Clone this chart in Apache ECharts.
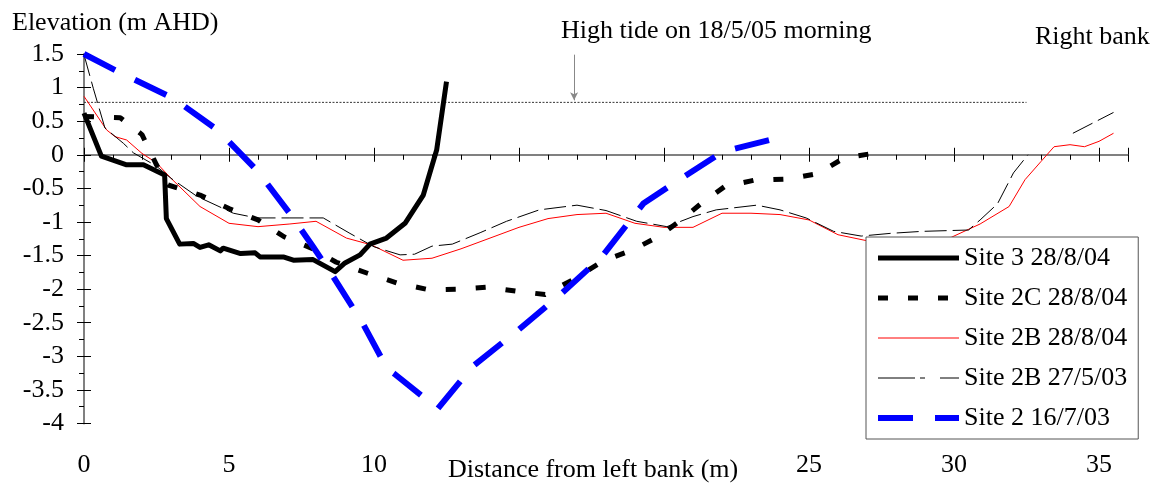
<!DOCTYPE html>
<html><head><meta charset="utf-8">
<script src="https://cdn.jsdelivr.net/npm/echarts@6/dist/echarts.min.js"></script>
<style>html,body{margin:0;padding:0;background:#fff}#c{width:1157px;height:483px}</style>
</head><body><div id="c"></div>
<script>
// ---- data ----
const site3X = [0, 0.6, 1.47, 2.05, 2.78, 2.84, 3.3, 3.77, 4.0, 4.3, 4.7, 4.8, 5.4, 5.9, 6.07, 6.87, 7.22, 7.9, 8.66, 9.0, 9.52, 9.86, 10.43, 11.07, 11.7, 12.16, 12.5];
const site3Y = [0.62, -0.02, -0.15, -0.15, -0.3, -0.95, -1.33, -1.32, -1.38, -1.34, -1.43, -1.39, -1.47, -1.46, -1.52, -1.52, -1.57, -1.56, -1.74, -1.61, -1.49, -1.33, -1.24, -1.02, -0.6, 0.07, 1.09];

const site2CX = [0, 1.25, 2.0, 2.5, 2.9, 4.0, 5.0, 6.0, 6.9, 7.9, 8.7, 9.75, 10.8, 11.9, 12.9, 13.9, 14.9, 15.9, 16.9, 17.9, 18.9, 19.8, 20.5, 21.3, 22.1, 23.1, 24.3, 25.3, 26.2, 27.2];
const site2CY = [0.57, 0.55, 0.3, -0.15, -0.45, -0.6, -0.8, -0.97, -1.22, -1.4, -1.6, -1.76, -1.91, -2.01, -2.0, -1.97, -2.03, -2.08, -1.85, -1.58, -1.42, -1.22, -1.0, -0.72, -0.47, -0.38, -0.36, -0.28, -0.05, 0.02];

const site2B04X = [0, 0.78, 1.07, 1.47, 2.0, 2.5, 3.0, 4.0, 5.0, 6.0, 7.1, 8.0, 9.05, 9.9, 11.0, 12.0, 13.0, 14.0, 15.0, 16.0, 17.0, 18.0, 19.0, 20.0, 21.0, 22.0, 23.0, 24.0, 25.0, 26.0, 27.0, 28.0, 29.0, 29.9, 30.9, 31.9, 32.45, 33.0, 33.45, 34.0, 34.5, 35.0, 35.5];
const site2B04Y = [0.87, 0.37, 0.27, 0.22, 0.02, -0.12, -0.35, -0.77, -1.02, -1.07, -1.03, -0.99, -1.24, -1.34, -1.57, -1.54, -1.4, -1.24, -1.08, -0.95, -0.89, -0.87, -1.02, -1.08, -1.08, -0.87, -0.87, -0.89, -0.97, -1.19, -1.28, -1.28, -1.26, -1.23, -1.03, -0.77, -0.37, -0.1, 0.12, 0.15, 0.12, 0.2, 0.32];

const site2B03X = [0, 0.32, 0.72, 1.36, 1.7, 2.5, 3.0, 3.9, 5.15, 5.95, 7.1, 8.25, 9.17, 10.0, 10.9, 11.4, 12.0, 12.7, 13.66, 14.57, 15.7, 17.0, 18.0, 19.06, 20.1, 21.0, 21.8, 23.2, 24.0, 24.9, 25.85, 26.8, 27.8, 28.9, 30.5, 30.9, 31.5, 32.05, 32.55, 33.3, 34.1, 35.5];
const site2B03Y = [1.49, 0.99, 0.4, 0.17, 0.03, -0.17, -0.35, -0.62, -0.87, -0.94, -0.94, -0.94, -1.17, -1.37, -1.49, -1.48, -1.36, -1.33, -1.16, -0.99, -0.82, -0.75, -0.83, -0.99, -1.07, -0.92, -0.82, -0.75, -0.82, -0.94, -1.14, -1.21, -1.17, -1.14, -1.12, -0.97, -0.73, -0.27, 0.0, null, 0.32, 0.63];

const site2X = [0, 1.3, 3.08, 4.63, 6.0, 7.16, 7.9, 8.6, 9.6, 10.45, 10.7, 12.2, 13.4, 15.0, 16.4, 17.85, 19.3, 20.6, 22.05, 24.2];
const site2Y = [1.5, 1.21, 0.84, 0.36, -0.25, -0.91, -1.37, -1.82, -2.5, -3.18, -3.26, -3.78, -3.15, -2.6, -2.09, -1.52, -0.72, -0.35, 0.05, 0.28];

const tideX = [0, 32.5];
const tideLevel = 0.78;
const arrowX = 16.9;
const arrowTop = 1.49;

const seriesNames = ['Site 3 28/8/04', 'Site 2C 28/8/04', 'Site 2B 28/8/04', 'Site 2B 27/5/03', 'Site 2 16/7/03'];
const xLabelsShown = [0, 5, 10, 25, 30, 35];

const xTitle = 'Distance from left bank (m)';
const yTitle = 'Elevation (m AHD)';
const tideText = 'High tide on 18/5/05 morning';
const bankText = 'Right bank';

// ---- build ----
const zip = (xs, ys) => xs.map((x, i) => [x, ys[i]]);
const FONT = "'Liberation Serif', 'Times New Roman', serif";
const chart = echarts.init(document.getElementById('c'), null, {renderer: 'canvas'});

const styles = {};
styles[seriesNames[0]] = {color: '#000000', width: 5, type: 'solid'};
styles[seriesNames[1]] = {color: '#000000', width: 5, type: [10, 20]};
styles[seriesNames[2]] = {color: '#ff0000', width: 1, type: 'solid'};
styles[seriesNames[3]] = {color: '#000000', width: 1, type: [22, 6]};
styles[seriesNames[4]] = {color: '#0000ff', width: 6, type: [35, 22]};

const legendTypes = {};
legendTypes[seriesNames[0]] = 'solid';
legendTypes[seriesNames[1]] = [10, 20];
legendTypes[seriesNames[2]] = 'solid';
legendTypes[seriesNames[3]] = [37, 5, 5, 15];
legendTypes[seriesNames[4]] = [35, 22];

const baseX = {
  type: 'value', min: 0, max: 36, interval: 5, position: 'bottom',
  splitLine: {show: false}
};
const baseY = {
  type: 'value', min: -4, max: 1.5, interval: 0.5, position: 'left',
  splitLine: {show: false}
};

function line(name, xs, ys, z) {
  const s = styles[name];
  return {
    name, type: 'line', data: zip(xs, ys), symbol: 'none', showSymbol: false,
    connectNulls: false, z: z || 2, animation: false,
    lineStyle: {color: s.color, width: s.width, type: s.type, cap: 'butt', join: 'round'},
    itemStyle: {color: s.color}
  };
}

chart.setOption({
  animation: false,
  backgroundColor: '#fff',
  textStyle: {fontFamily: FONT},
  grid: {left: 84, top: 54, width: 1044, height: 369.5, containLabel: false},
  xAxis: [
    Object.assign({}, baseX, {
      axisLine: {show: true, lineStyle: {color: '#808080', width: 2}},
      axisTick: {show: true, inside: false, length: 7, lineStyle: {color: '#000', width: 1}},
      minorTick: {show: true, splitNumber: 5, length: 5, lineStyle: {color: '#000', width: 1}},
      axisLabel: {
        show: true, margin: 29, color: '#000', fontSize: 26, fontFamily: FONT,
        formatter: v => xLabelsShown.indexOf(v) >= 0 ? String(v) : ''
      }
    }),
    Object.assign({}, baseX, {
      axisLine: {show: false},
      axisTick: {show: true, inside: true, length: 7, lineStyle: {color: '#000', width: 1}},
      axisLabel: {show: false}
    })
  ],
  yAxis: [
    Object.assign({}, baseY, {
      axisLine: {show: true, lineStyle: {color: '#808080', width: 2}},
      axisTick: {show: true, inside: false, length: 7, lineStyle: {color: '#000', width: 1}},
      minorTick: {show: true, splitNumber: 2, length: 5, lineStyle: {color: '#000', width: 1}},
      axisLabel: {show: true, margin: 20, color: '#000', fontSize: 26, fontFamily: FONT}
    }),
    Object.assign({}, baseY, {
      axisLine: {show: false},
      axisTick: {show: true, inside: true, length: 7, lineStyle: {color: '#000', width: 1}},
      axisLabel: {show: false}
    })
  ],
  legend: {
    show: true, orient: 'vertical', left: 866, top: 237,
    data: seriesNames.map(n => ({
      name: n,
      itemStyle: {opacity: 0, borderWidth: 0},
      lineStyle: {color: styles[n].color, width: styles[n].width, type: legendTypes[n], opacity: 1, cap: 'butt'}
    })),
    itemWidth: 81, itemHeight: 14, itemGap: 14, itemTextGap: 6,
    padding: [8, 11, 8, 9],
    backgroundColor: '#fff', borderColor: '#555', borderWidth: 1, borderRadius: 0,
    textStyle: {color: '#000', fontSize: 26, fontFamily: FONT, lineHeight: 26},
    selectedMode: false, z: 10
  },
  series: [
    {
      name: 'tide', type: 'line', data: tideX.map(x => [x, tideLevel]), symbol: 'none',
      lineStyle: {color: '#333', width: 1, type: [2, 1.5]}, z: 1, silent: true,
      markLine: {
        silent: true, symbol: ['none', 'arrow'], symbolSize: [6, 8],
        label: {show: false},
        lineStyle: {color: '#888', width: 1, type: 'solid'},
        data: [[{coord: [arrowX, arrowTop]}, {coord: [arrowX, tideLevel + 0.03]}]]
      }
    },
    line(seriesNames[2], site2B04X, site2B04Y, 2),
    line(seriesNames[3], site2B03X, site2B03Y, 2),
    line(seriesNames[1], site2CX, site2CY, 3),
    line(seriesNames[0], site3X, site3Y, 3),
    line(seriesNames[4], site2X, site2Y, 4)
  ],
  graphic: [
    {type: 'text', left: 12, top: 10, style: {text: yTitle, font: "26px " + FONT, fill: '#000'}},
    {type: 'text', left: 561, top: 18, style: {text: tideText, font: "26px " + FONT, fill: '#000'}},
    {type: 'text', left: 1035, top: 24, style: {text: bankText, font: "26px " + FONT, fill: '#000'}},
    {type: 'text', left: 448, top: 457, style: {text: xTitle, font: "26px " + FONT, fill: '#000', backgroundColor: '#fff'}}
  ]
});
</script>
</body></html>
